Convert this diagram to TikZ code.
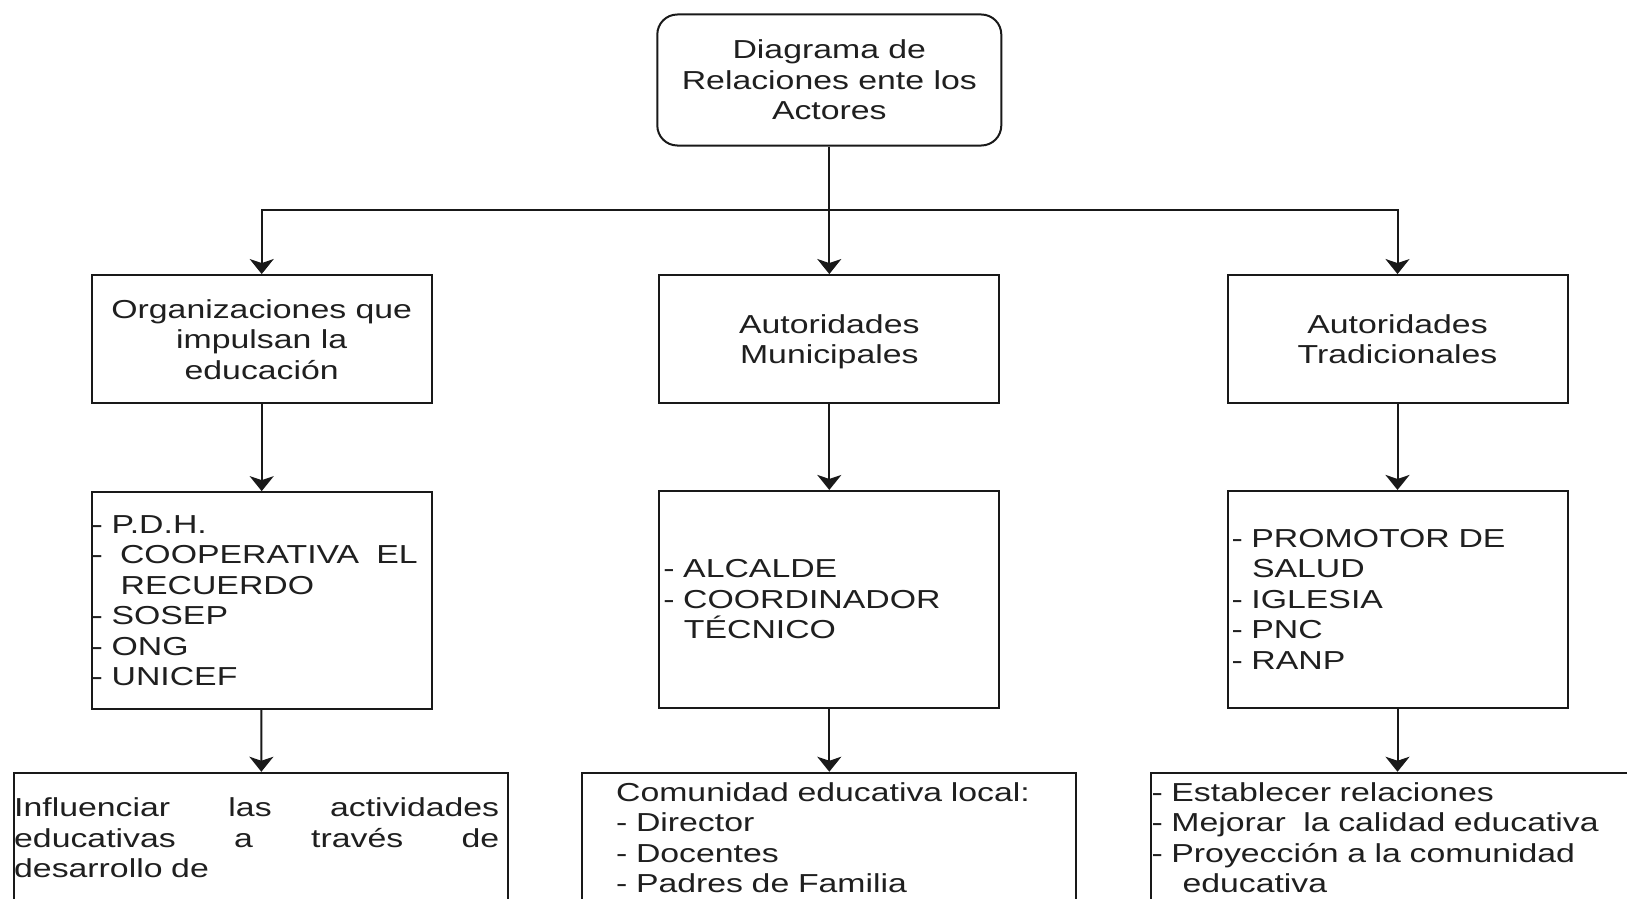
\documentclass[tikz,border=0pt]{standalone}
\usepackage{fontspec}
\setmainfont{Liberation Sans}[FakeStretch=1.3]
\usetikzlibrary{arrows.meta}
\begin{document}
\begin{tikzpicture}[x=1pt,y=-1pt,
  every node/.style={font=\fontsize{26pt}{30.5pt}\selectfont, text=black!88},
  box/.style={draw=black!90, line width=2pt, rectangle, inner xsep=0pt, inner ysep=0pt},
  cbox/.style={box, align=center, text depth=0pt},
  arr/.style={draw=black!90, line width=2pt, -{Stealth[length=15pt,width=24pt,inset=4pt]}},
]
\useasboundingbox (0,0) rectangle (1627,899);
\fill[white] (0,0) rectangle (1627,899);
\clip (0,0) rectangle (1627,899);

% top
\node[cbox, rounded corners=20pt, minimum width=344pt, minimum height=131pt] (top) at (829.3,80) {Diagrama de\\Relaciones ente los\\Actores};

% level 2
\node[cbox, minimum width=340pt, minimum height=128.3pt] (l2) at (261.7,339.2) {Organizaciones que\\impulsan la\\educación};
\node[cbox, minimum width=340pt, minimum height=128.3pt] (m2) at (829.3,339.2) {Autoridades\\Municipales};
\node[cbox, minimum width=340pt, minimum height=128.3pt] (r2) at (1397.5,339.2) {Autoridades\\Tradicionales};

% level 3
\node[box, minimum height=216.7pt, text width=340pt, align=left] (l3) at (261.7,600.5)
  {- P.D.H.\\\makebox[326pt][l]{-\hfill COOPERATIVA\hfill EL}\\\hspace*{29pt}RECUERDO\\- SOSEP\\- ONG\\- UNICEF};
\node[box, minimum height=216.7pt, inner xsep=4pt, text width=332pt, align=left] (m3) at (829.3,599.3)
  {- ALCALDE\\- COORDINADOR\\\hspace*{20.6pt}TÉCNICO};
\node[box, minimum height=216.7pt, inner xsep=4pt, text width=332pt, align=left] (r3) at (1397.5,599.3)
  {- PROMOTOR DE\\\hspace*{20.6pt}SALUD\\- IGLESIA\\- PNC\\- RANP};

% level 4
\node[box, minimum height=130.3pt, text width=494pt, align=left] (l4) at (261.2,837.9)
  {\makebox[485pt][l]{Influenciar\hfill las\hfill actividades}\\\makebox[485pt][l]{educativas\hfill a\hfill través\hfill de}\\desarrollo de};
\node[box, minimum height=130.3pt, inner xsep=33.8pt, text width=426.4pt, align=left] (m4) at (829.3,837.9)
  {Comunidad educativa local:\\- Director\\- Docentes\\- Padres de Familia};
\node[box, minimum height=130.3pt, inner xsep=1pt, text width=492pt, align=left] (r4) at (1397.5,837.9)
  {- Establecer relaciones\\- Mejorar\ \ la calidad educativa\\- Proyección a la comunidad\\\hspace*{31pt}educativa};

% connectors
\coordinate (hub) at (829.3,210);
\draw[arr] (top) -- (m2);
\draw[arr] (hub) -| (l2.north);
\draw[arr] (hub) -| (r2.north);
\draw[arr] (l2) -- (l3);
\draw[arr] (m2) -- (m3);
\draw[arr] (r2) -- (r3);
\draw[arr] (l3) -- (l4);
\draw[arr] (m3) -- (m4);
\draw[arr] (r3) -- (r4);
\end{tikzpicture}
\end{document}
